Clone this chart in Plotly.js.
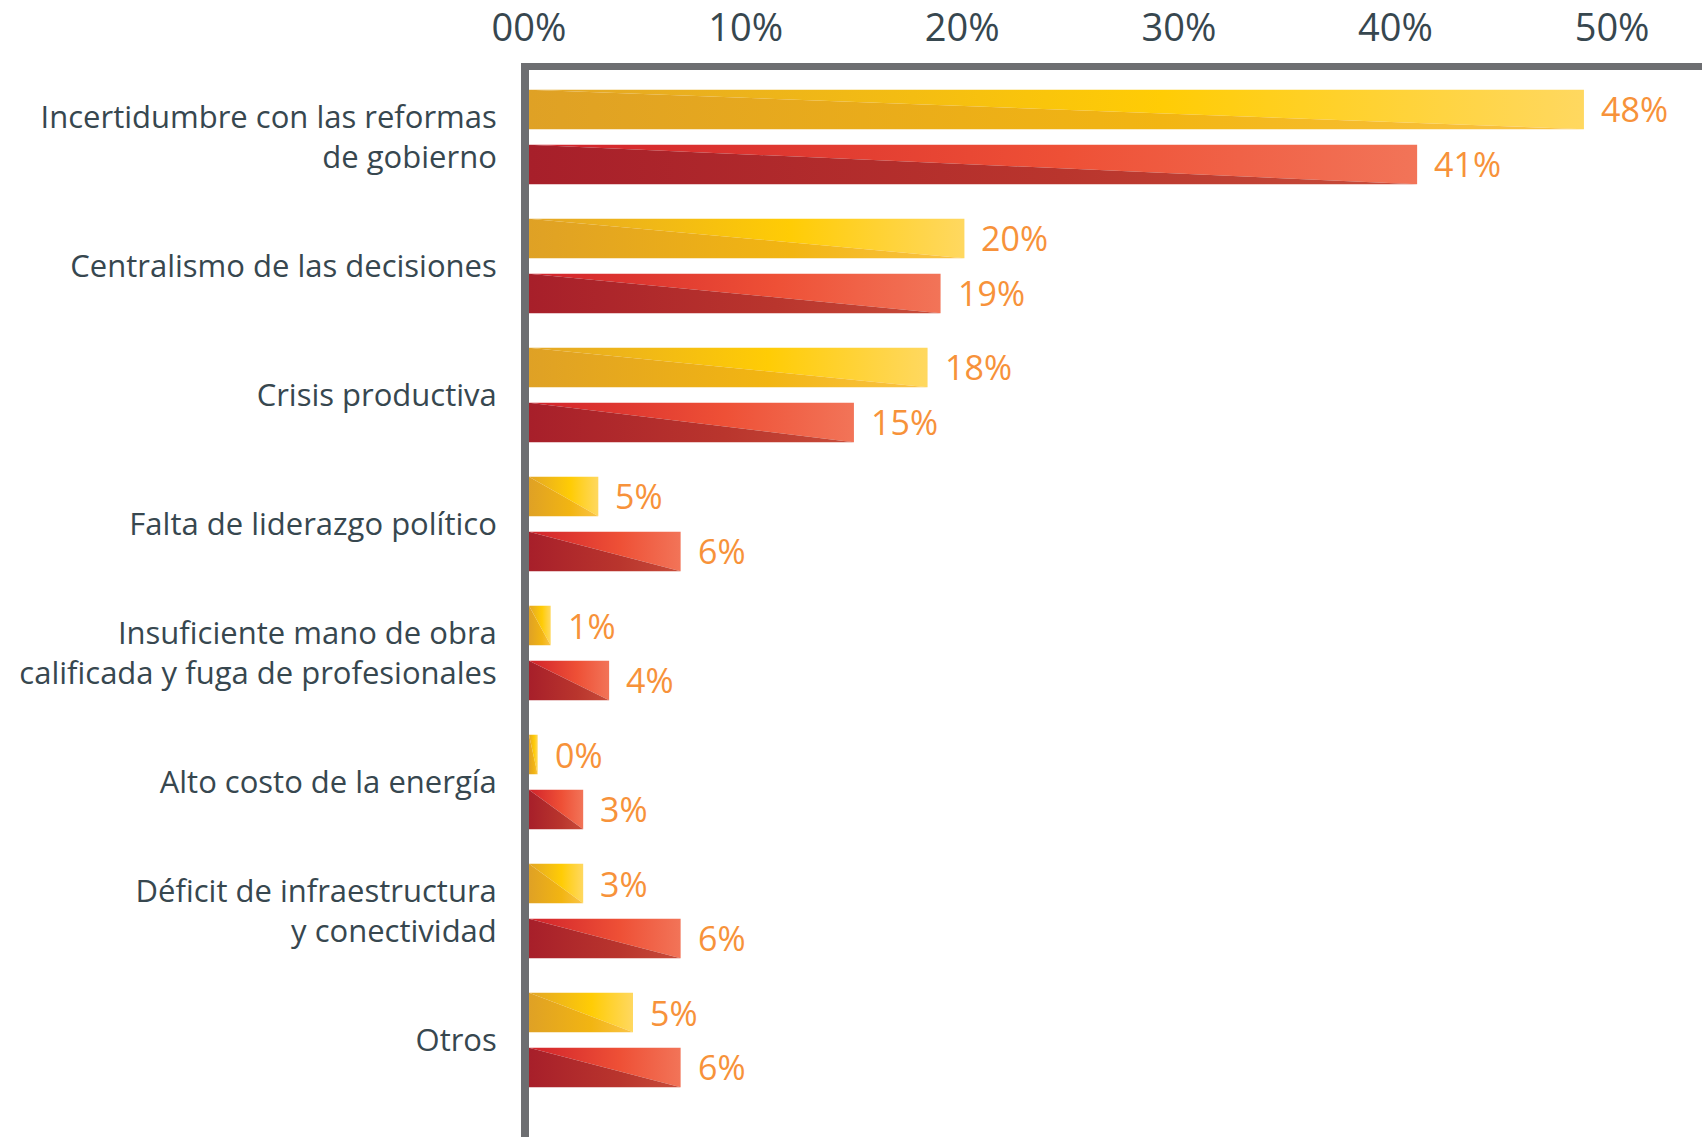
<!DOCTYPE html>
<html>
<head>
<meta charset="utf-8">
<script src="https://cdn.plot.ly/plotly-3.0.1.min.js"></script>
<style>
  html, body { margin: 0; padding: 0; background: #ffffff; }
  #chart { width: 1702px; height: 1137px; }
</style>
</head>
<body>
<div id="chart"></div>
<script>
// ---- data ----
const categories = [
  "Incertidumbre con las reformas<br>de gobierno",
  "Centralismo de las decisiones",
  "Crisis productiva",
  "Falta de liderazgo político",
  "Insuficiente mano de obra<br>calificada y fuga de profesionales",
  "Alto costo de la energía",
  "Déficit de infraestructura<br>y conectividad",
  "Otros"
];
// bar lengths as drawn in the picture (percent)
const serieA = [48.7, 20.1, 18.4, 3.2, 1.0, 0.4, 2.5, 4.8];
const serieB = [41.0, 19.0, 15.0, 7.0, 3.7, 2.5, 7.0, 7.0];
// printed value labels
const labelsA = ["48%", "20%", "18%", "5%", "1%", "0%", "3%", "5%"];
const labelsB = ["41%", "19%", "15%", "6%", "4%", "3%", "6%", "6%"];
const tickVals = [0, 10, 20, 30, 40, 50];
const tickText = ["00%", "10%", "20%", "30%", "40%", "50%"];

// ---- styles ----
const OFFSET = 0.213, HALF = 0.153;
const yellowUpper = [[0, "#E3A626"], [0.6, "#FFCC05"], [1, "#FFD860"]];
const yellowLower = [[0, "#DFA125"], [0.6, "#F2B512"], [1, "#FAC448"]];
const redUpper = [[0, "#D1222B"], [0.6, "#EE5036"], [1, "#F27458"]];
const redLower = [[0, "#A71F2A"], [0.6, "#B9352D"], [1, "#C84C3A"]];

const traces = [];
const annotations = [];
function addBar(v, center, upper, lower, label) {
  const top = center - HALF, bot = center + HALF;
  // upper (lighter) triangle: top-left, top-right, bottom-right
  traces.push({
    type: "scatter", mode: "lines", x: [0, v, v, 0], y: [top, top, bot, top],
    fill: "toself", line: { width: 0, color: "rgba(0,0,0,0)" },
    fillgradient: { type: "horizontal", colorscale: upper, start: 0, stop: v },
    hoverinfo: "skip", showlegend: false
  });
  // lower (darker) triangle: top-left, bottom-right, bottom-left
  traces.push({
    type: "scatter", mode: "lines", x: [0, v, 0, 0], y: [top, bot, bot, top],
    fill: "toself", line: { width: 0, color: "rgba(0,0,0,0)" },
    fillgradient: { type: "horizontal", colorscale: lower, start: 0, stop: v },
    hoverinfo: "skip", showlegend: false
  });
  annotations.push({
    x: v, y: center, xref: "x", yref: "y", text: label, showarrow: false,
    xanchor: "left", yanchor: "middle", xshift: 15,
    font: { family: "Open Sans, sans-serif", size: 34, color: "#F7923A" }
  });
}
categories.forEach((c, i) => {
  addBar(serieA[i], i - OFFSET, yellowUpper, yellowLower, labelsA[i]);
  addBar(serieB[i], i + OFFSET, redUpper, redLower, labelsB[i]);
});

const layout = {
  width: 1702, height: 1137,
  margin: { l: 529, r: 0, t: 70, b: 0, pad: 0 },
  paper_bgcolor: "#ffffff", plot_bgcolor: "#ffffff",
  showlegend: false,
  font: { family: "Open Sans, sans-serif", color: "#37474F" },
  xaxis: {
    side: "top", range: [0, 54.15], tickvals: tickVals, ticktext: tickText,
    showline: true, linewidth: 7, linecolor: "#6D6E71",
    showgrid: false, zeroline: false, ticks: "", ticklabelstandoff: 7,
    tickfont: { size: 38, color: "#37474F" }, fixedrange: true
  },
  yaxis: {
    range: [7.752, -0.519], tickvals: categories.map((c, i) => i), ticktext: categories,
    showline: true, linewidth: 8, linecolor: "#6D6E71",
    showgrid: false, zeroline: false, ticks: "", ticklabelstandoff: 18,
    tickfont: { size: 31, color: "#37474F" }, fixedrange: true
  },
  annotations: annotations
};

Plotly.newPlot("chart", traces, layout, { displayModeBar: false, staticPlot: true });
</script>
</body>
</html>
